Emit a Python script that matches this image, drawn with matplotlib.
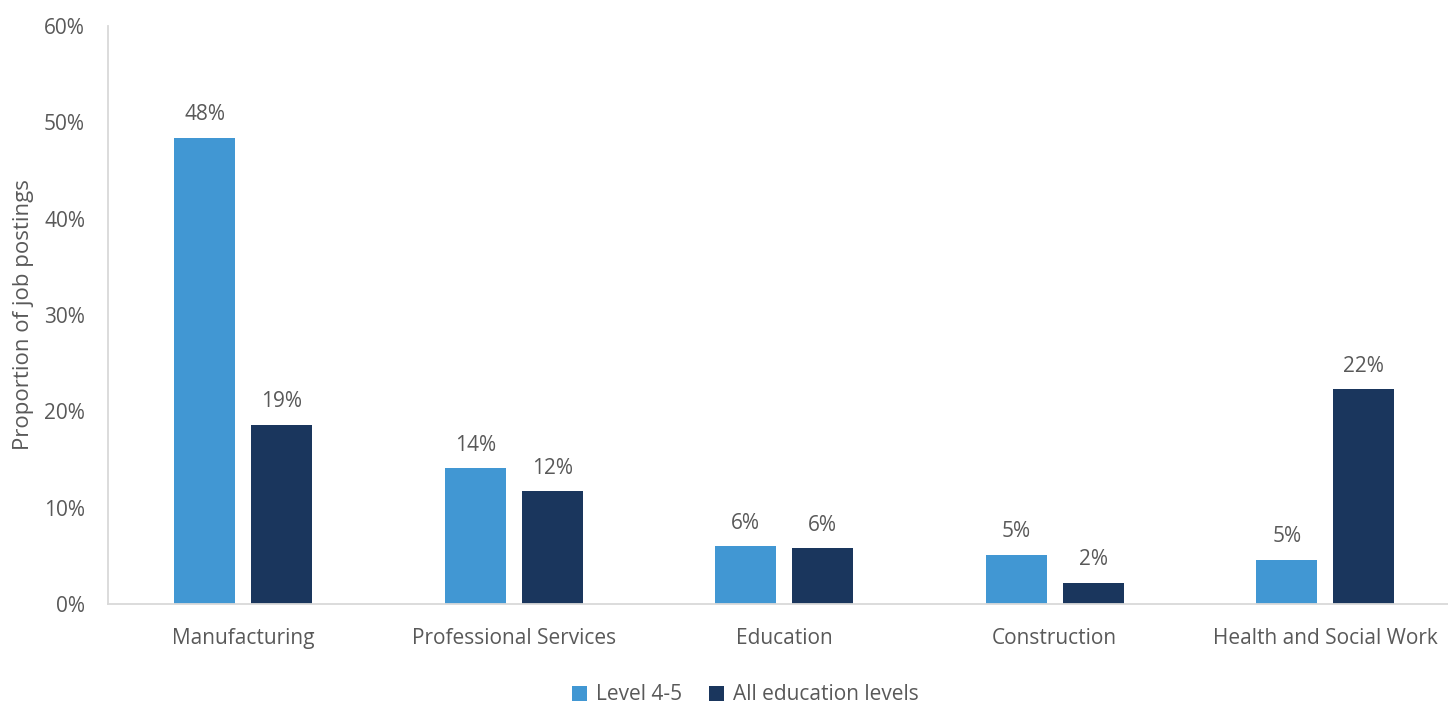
import matplotlib
matplotlib.use("Agg")
import matplotlib.pyplot as plt
import numpy as np

categories = ["Manufacturing", "Professional Services", "Education", "Construction", "Health and Social Work"]
level_4_5 = [48.4, 14.1, 6.0, 5.1, 4.6]
all_levels = [18.6, 11.7, 5.8, 2.2, 22.3]
series_names = ["Level 4-5", "All education levels"]
y_ticks = [0, 10, 20, 30, 40, 50, 60]

light_blue = "#4197D3"
navy = "#1A365D"
text_grey = "#595959"
axis_grey = "#D9D9D9"

plt.rcParams["font.family"] = ["Open Sans", "DejaVu Sans"]
fs = 15

fig = plt.figure(figsize=(14.48, 7.04), dpi=100)
ax = fig.add_axes([108 / 1448, 1 - 604 / 704, 1352.5 / 1448, 578 / 704])

x = np.arange(len(categories))
width = 0.226
offset = 0.142
b1 = ax.bar(x - offset, level_4_5, width, color=light_blue, label=series_names[0], zorder=2)
b2 = ax.bar(x + offset, all_levels, width, color=navy, label=series_names[1], zorder=2)

for bars, vals in ((b1, level_4_5), (b2, all_levels)):
    for rect, v in zip(bars, vals):
        ax.annotate(f"{v:.0f}%", (rect.get_x() + rect.get_width() / 2, v),
                    xytext=(0, 9), textcoords="offset points",
                    ha="center", va="bottom", fontsize=fs, color=text_grey)

ax.set_xlim(-0.5, len(categories) - 0.5)
ax.set_ylim(0, 60)
ax.set_yticks(y_ticks)
ax.set_yticklabels([f"{t}%" for t in y_ticks])
ax.set_xticks(x)
ax.set_xticklabels(categories)
ax.tick_params(axis="both", length=0, labelsize=fs, labelcolor=text_grey)
ax.tick_params(axis="y", pad=16.5)
ax.tick_params(axis="x", pad=17)

for s in ("top", "right"):
    ax.spines[s].set_visible(False)
for s in ("left", "bottom"):
    ax.spines[s].set_color(axis_grey)
    ax.spines[s].set_linewidth(1.3)

ax.set_ylabel("Proportion of job postings", fontsize=16, color=text_grey)
ax.yaxis.set_label_coords(-0.055, 0.5)

leg = fig.legend(handles=[b1, b2], labels=series_names, loc="center", bbox_to_anchor=(745 / 1448, 1 - 695 / 704),
                 ncol=2, frameon=False, fontsize=fs, handlelength=0.75, handleheight=0.75,
                 handletextpad=0.4, columnspacing=1.3)
for t in leg.get_texts():
    t.set_color(text_grey)

fig.savefig("out.png", dpi=100, facecolor="white")
